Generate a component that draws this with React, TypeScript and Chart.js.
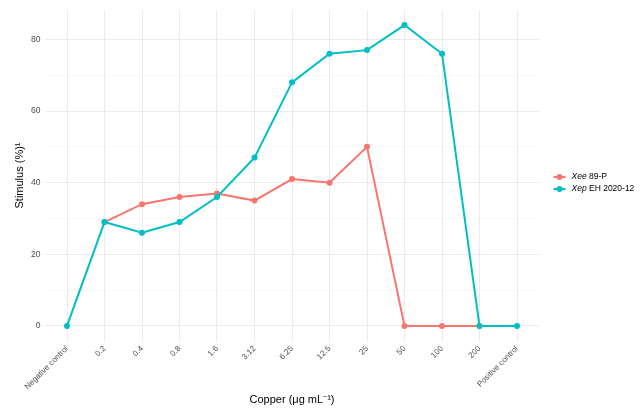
import React, { useEffect, useRef } from "react";
import { Chart, registerables } from "chart.js";

Chart.register(...registerables);

const categories = [
  "Negative control", "0.2", "0.4", "0.8", "1.6", "3.12", "6.25",
  "12.5", "25", "50", "100", "200", "Positive control",
];
const xee89P: (number | null)[] = [null, 29, 34, 36, 37, 35, 41, 40, 50, 0, 0, 0, null];
const xepEH202012: (number | null)[] = [0, 29, 26, 29, 36, 47, 68, 76, 77, 84, 76, 0, 0];
const yTicks = [0, 10, 20, 30, 40, 50, 60, 70, 80];

const RED = "#F8766D";
const TEAL = "#00BFC4";
const FONT = "'Liberation Sans', Arial, Helvetica, sans-serif";

const legendItems = [
  { italic: "Xee", rest: " 89-P", color: RED },
  { italic: "Xep", rest: " EH 2020-12", color: TEAL },
];

// Legend with partly italic species names, drawn to the right of the panel.
const italicLegend = {
  id: "italicLegend",
  afterDraw(chart: Chart) {
    const { ctx, chartArea } = chart;
    const x0 = chartArea.right + 14;
    const yMid = 183;
    ctx.save();
    legendItems.forEach((item, i) => {
      const y = yMid - 6 + i * 12;
      ctx.strokeStyle = item.color;
      ctx.fillStyle = item.color;
      ctx.lineWidth = 2;
      ctx.beginPath();
      ctx.moveTo(x0, y);
      ctx.lineTo(x0 + 12, y);
      ctx.stroke();
      ctx.beginPath();
      ctx.arc(x0 + 6, y, 3, 0, Math.PI * 2);
      ctx.fill();
      ctx.fillStyle = "#000";
      ctx.textBaseline = "middle";
      ctx.textAlign = "left";
      ctx.font = `italic 8.5px ${FONT}`;
      ctx.fillText(item.italic, x0 + 18, y);
      const w = ctx.measureText(item.italic).width;
      ctx.font = `8.5px ${FONT}`;
      ctx.fillText(item.rest, x0 + 18 + w, y);
    });
    ctx.restore();
  },
};

export default function App() {
  const canvasRef = useRef<HTMLCanvasElement | null>(null);

  useEffect(() => {
    document.body.style.margin = "0";
    const canvas = canvasRef.current;
    if (!canvas) return;
    const toPoints = (vals: (number | null)[]) => vals.map((y, i) => ({ x: i, y }));
    const chart = new Chart(canvas, {
      type: "line",
      data: {
        datasets: [
          {
            label: "Xee 89-P",
            data: toPoints(xee89P),
            borderColor: RED,
            backgroundColor: RED,
            borderWidth: 2,
            pointRadius: 3,
            pointBorderWidth: 0,
            tension: 0,
            order: 2,
          },
          {
            label: "Xep EH 2020-12",
            data: toPoints(xepEH202012),
            borderColor: TEAL,
            backgroundColor: TEAL,
            borderWidth: 2,
            pointRadius: 3,
            pointBorderWidth: 0,
            tension: 0,
            order: 1,
          },
        ],
      },
      options: {
        responsive: false,
        animation: false,
        layout: { padding: { top: 10, right: 104.5, left: 0, bottom: 0 } },
        plugins: { legend: { display: false }, tooltip: { enabled: false } },
        scales: {
          x: {
            type: "linear",
            min: -0.6,
            max: categories.length - 1 + 0.6,
            afterBuildTicks: (scale: any) => {
              scale.ticks = categories.map((_, i) => ({ value: i }));
            },
            afterFit: (scale: any) => {
              scale.height = 70;
            },
            ticks: {
              autoSkip: false,
              maxRotation: 45,
              minRotation: 45,
              padding: 3,
              color: "#4D4D4D",
              font: { family: FONT, size: 8 },
              callback: (v: any) => categories[v] ?? "",
            },
            grid: { color: "#EBEBEB", lineWidth: 1, drawTicks: false },
            border: { display: false },
            title: {
              display: true,
              text: "Copper (μg mL⁻¹)",
              color: "#000",
              font: { family: FONT, size: 11 },
              padding: { top: 0, bottom: 4 },
            },
          },
          y: {
            min: -4.2,
            max: 88.2,
            afterBuildTicks: (scale: any) => {
              scale.ticks = yTicks.map((v) => ({ value: v }));
            },
            afterFit: (scale: any) => {
              scale.width = 44.5;
            },
            ticks: {
              padding: 4,
              color: "#4D4D4D",
              font: { family: FONT, size: 8.5 },
              callback: (v: any) => (v % 20 === 0 ? String(v) : ""),
            },
            grid: {
              drawTicks: false,
              color: (c: any) => (c.tick && c.tick.value % 20 === 0 ? "#EBEBEB" : "#F3F3F3"),
              lineWidth: (c: any) => (c.tick && c.tick.value % 20 === 0 ? 1 : 0.7),
            },
            border: { display: false },
            title: {
              display: true,
              text: "Stimulus (%)¹",
              color: "#000",
              font: { family: FONT, size: 11 },
              padding: { top: 13, bottom: 0 },
            },
          },
        },
      },
      plugins: [italicLegend],
    } as any);
    return () => chart.destroy();
  }, []);

  return (
    <div style={{ width: 644, height: 411, background: "#fff" }}>
      <canvas ref={canvasRef} width={644} height={411} />
    </div>
  );
}
